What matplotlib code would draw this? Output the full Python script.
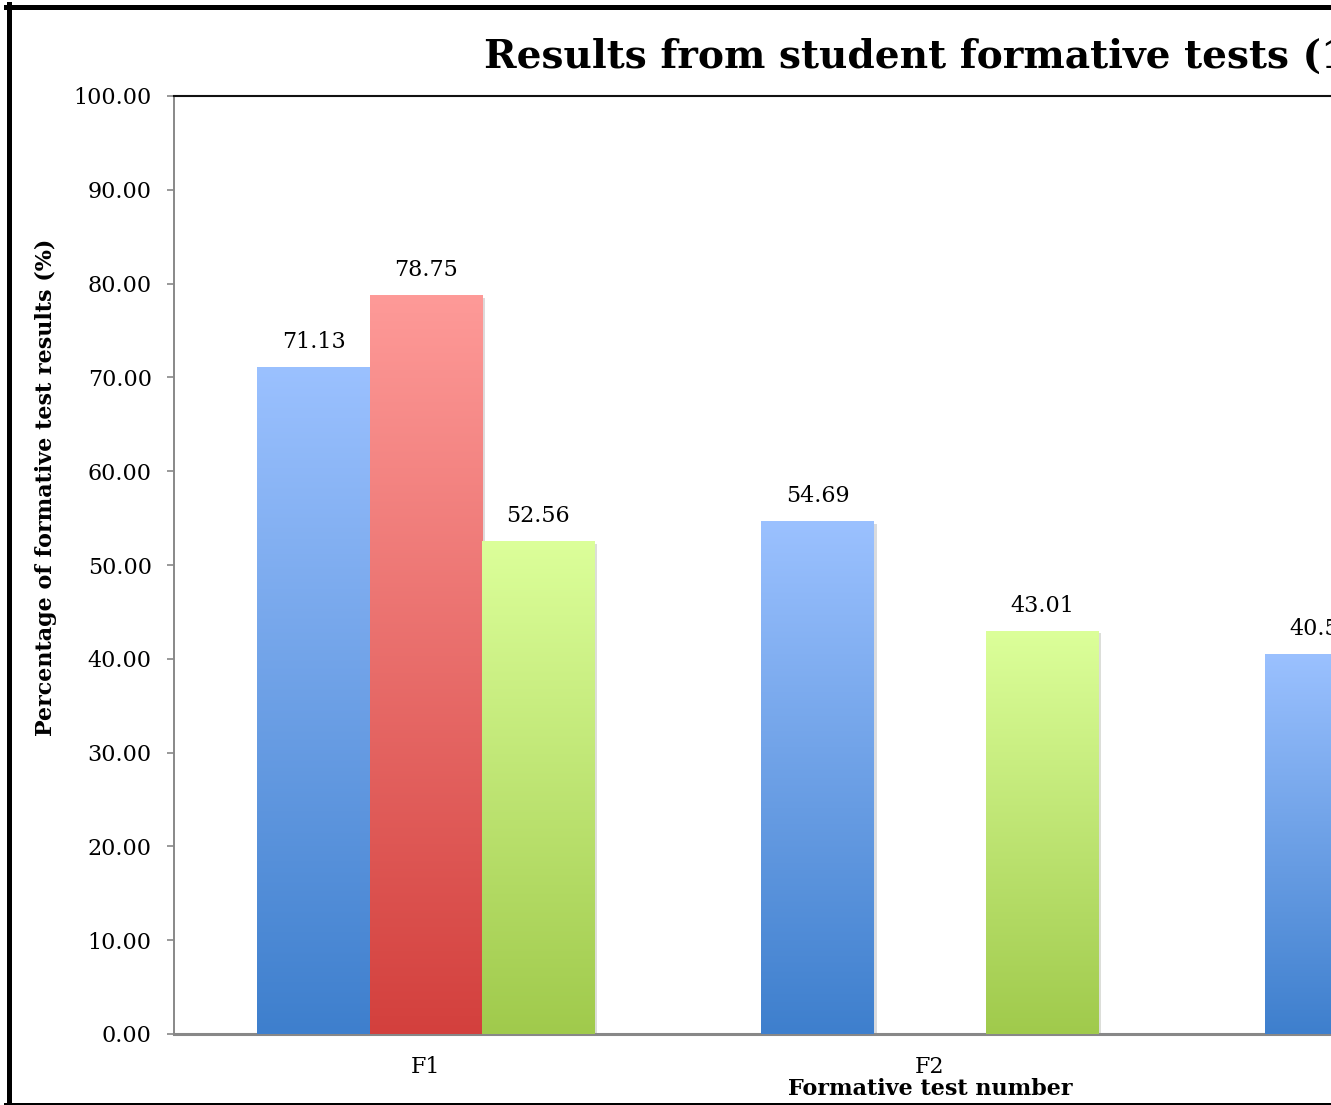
import numpy as np
import matplotlib.pyplot as plt
from matplotlib.colors import LinearSegmentedColormap
from matplotlib.lines import Line2D
import matplotlib.patheffects as pe

plt.rc('font', family='DejaVu Serif')

# data (only part of the chart is visible)
tests = ['F1', 'F2', 'F3']
group_a = [71.13, 54.69, 40.53]
group_b = [78.75, np.nan, np.nan]
group_c = [52.56, 43.01, np.nan]
yticks = [0, 10, 20, 30, 40, 50, 60, 70, 80, 90, 100]

W, H = 1331, 1105
fig = plt.figure(figsize=(W / 100, H / 100), dpi=100)
# plot area runs past the right edge of the picture, like the cropped original
ax = fig.add_axes([174 / W, 1 - 1034 / H, 1512 / W, (1034 - 96) / H])

x = np.arange(len(tests))
width = 0.223
series = [
    (group_a, -width, '#9bc1ff', '#3e7fcd'),
    (group_b, 0.0, '#fe9a98', '#d3403d'),
    (group_c, width, '#dcff9a', '#a0ca4c'),
]

for vals, off, top_c, bot_c in series:
    cmap = LinearSegmentedColormap.from_list('g', [bot_c, top_c])
    bars = ax.bar(x + off, vals, width, color=top_c, zorder=2,
                  path_effects=[pe.SimplePatchShadow(offset=(2, -2), alpha=0.18),
                                pe.Normal()])
    grad = np.linspace(0, 1, 256).reshape(-1, 1)
    for b, v in zip(bars, vals):
        if np.isnan(v):
            continue
        x0 = b.get_x()
        img = ax.imshow(grad, cmap=cmap, origin='lower', aspect='auto',
                        extent=[x0, x0 + b.get_width(), 0, v], zorder=3)
        img.set_clip_path(b)
        ax.annotate('%.2f' % v, (x0 + b.get_width() / 2, v), xytext=(0, 10),
                    textcoords='offset points', ha='center', va='bottom',
                    fontsize=16)

ax.set_xlim(-0.5, 2.5)
ax.set_ylim(0, 100)
ax.set_yticks(yticks)
ax.set_yticklabels(['%.2f' % t for t in yticks])
ax.set_xticks(x)
ax.set_xticklabels(tests)
ax.tick_params(axis='y', direction='out', length=5, width=1.2, color='#888888',
               labelsize=16, pad=11)
ax.tick_params(axis='x', length=0, labelsize=16, pad=16)

for s in ['left', 'bottom']:
    ax.spines[s].set_color('#888888')
ax.spines['left'].set_linewidth(1.4)
ax.spines['bottom'].set_linewidth(2.2)
ax.spines['top'].set_color('#111111')
ax.spines['top'].set_linewidth(1.5)
ax.spines['right'].set_visible(False)

ax.set_xlabel('Formative test number', fontsize=16, fontweight='bold')
ax.xaxis.set_label_coords(0.5, -0.047)
ax.set_ylabel('Percentage of formative test results (%)', fontsize=16,
              fontweight='bold')
ax.yaxis.label.set_verticalalignment('center')
ax.yaxis.set_label_coords(-128 / 1512, (1034 - 487) / 938)

fig.text(484 / W, 1 - 67 / H, 'Results from student formative tests (1st year)',
         ha='left', va='baseline', fontsize=28.2, fontweight='bold')

# outer chart border (right side is cut off)
fig.add_artist(Line2D([8.5 / W, 8.5 / W], [1 - 4 / H, -0.01],
                      transform=fig.transFigure, color='black', lw=3.6))
fig.add_artist(Line2D([6 / W, 1.01], [1 - 6.5 / H, 1 - 6.5 / H],
                      transform=fig.transFigure, color='black', lw=3.6))
fig.add_artist(Line2D([6 / W, 1.01], [1 - 1104.5 / H, 1 - 1104.5 / H],
                      transform=fig.transFigure, color='black', lw=3.6))

fig.savefig('out.png', dpi=100)
